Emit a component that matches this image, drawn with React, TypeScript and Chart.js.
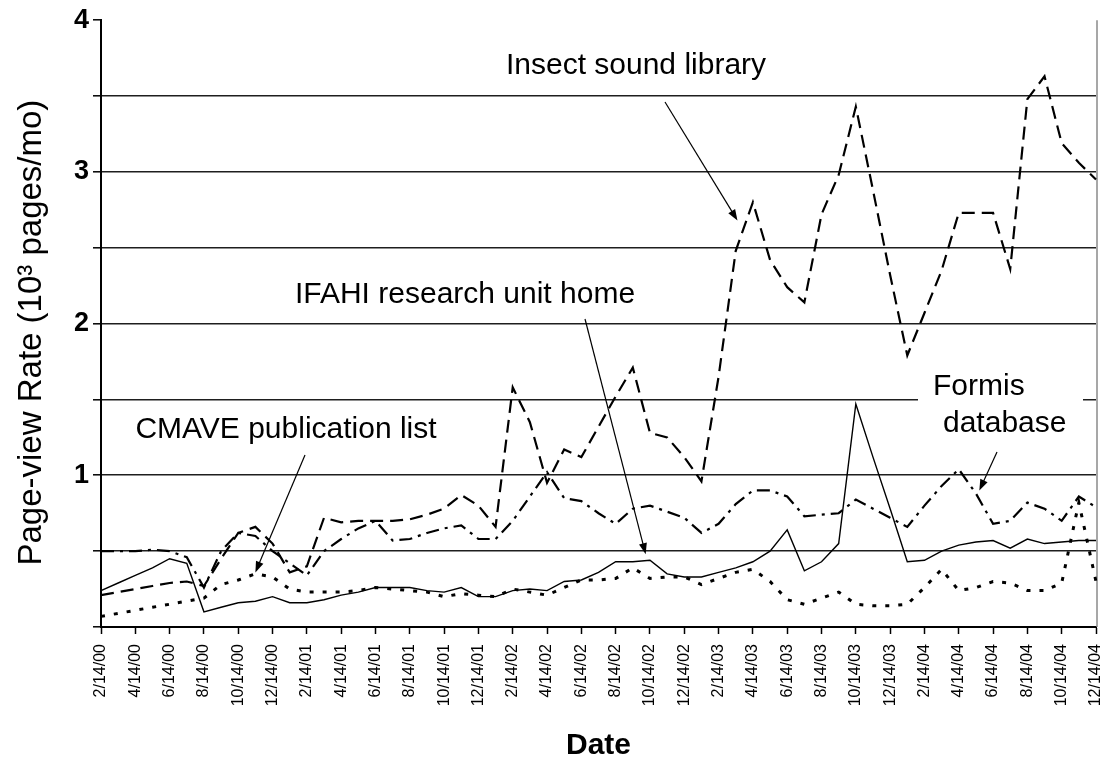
import React, { useEffect, useRef } from "react";
import { Chart, registerables } from "chart.js";

Chart.register(...registerables);

const FONT = '"Liberation Sans", Arial, Helvetica, sans-serif';

// Monthly sample dates (x categories)
const dateLabels = [
  "2/14/00", "3/14/00", "4/14/00", "5/14/00", "6/14/00", "7/14/00", "8/14/00", "9/14/00", "10/14/00", "11/14/00", "12/14/00",
  "1/14/01", "2/14/01", "3/14/01", "4/14/01", "5/14/01", "6/14/01", "7/14/01", "8/14/01", "9/14/01", "10/14/01", "11/14/01", "12/14/01",
  "1/14/02", "2/14/02", "3/14/02", "4/14/02", "5/14/02", "6/14/02", "7/14/02", "8/14/02", "9/14/02", "10/14/02", "11/14/02", "12/14/02",
  "1/14/03", "2/14/03", "3/14/03", "4/14/03", "5/14/03", "6/14/03", "7/14/03", "8/14/03", "9/14/03", "10/14/03", "11/14/03", "12/14/03",
  "1/14/04", "2/14/04", "3/14/04", "4/14/04", "5/14/04", "6/14/04", "7/14/04", "8/14/04", "9/14/04", "10/14/04", "11/14/04", "12/14/04",
];

// Page-view rate, 10^3 pages / month
const insectSoundLibrary = [
  0.21, 0.23, 0.25, 0.27, 0.29, 0.30, 0.27, 0.45, 0.62, 0.66,
  0.55, 0.36, 0.40, 0.72, 0.69, 0.70, 0.70, 0.70, 0.71, 0.74,
  0.78, 0.87, 0.80, 0.66, 1.58, 1.35, 0.95, 1.17, 1.12, 1.32,
  1.52, 1.71, 1.28, 1.25, 1.12, 0.96, 1.65, 2.48, 2.80, 2.42,
  2.24, 2.14, 2.72, 2.98, 3.43, 2.88, 2.32, 1.79, 2.07, 2.35,
  2.73, 2.73, 2.73, 2.36, 3.48, 3.63, 3.19, 3.06, 2.95,
];

const formisDatabase = [
  0.50, 0.50, 0.50, 0.51, 0.50, 0.46, 0.26, 0.50, 0.62, 0.60,
  0.50, 0.42, 0.34, 0.50, 0.58, 0.65, 0.70, 0.57, 0.58, 0.62,
  0.65, 0.67, 0.58, 0.58, 0.70, 0.86, 1.02, 0.85, 0.83, 0.75,
  0.68, 0.78, 0.80, 0.76, 0.72, 0.62, 0.68, 0.81, 0.90, 0.90,
  0.86, 0.73, 0.74, 0.75, 0.84, 0.78, 0.72, 0.66, 0.80, 0.93,
  1.04, 0.88, 0.68, 0.70, 0.82, 0.78, 0.70, 0.86, 0.79,
];

const ifahiResearchUnitHome = [
  0.24, 0.29, 0.34, 0.39, 0.45, 0.42, 0.10, 0.13, 0.16, 0.17,
  0.20, 0.16, 0.16, 0.18, 0.21, 0.23, 0.26, 0.26, 0.26, 0.24,
  0.23, 0.26, 0.20, 0.20, 0.24, 0.25, 0.24, 0.30, 0.31, 0.36,
  0.43, 0.43, 0.44, 0.35, 0.33, 0.33, 0.36, 0.39, 0.43, 0.50,
  0.64, 0.37, 0.43, 0.55, 1.47, 1.12, 0.78, 0.43, 0.44, 0.50,
  0.54, 0.56, 0.57, 0.52, 0.58, 0.55, 0.56, 0.57, 0.57,
];

const cmavePublicationList = [
  0.07, 0.09, 0.11, 0.13, 0.15, 0.17, 0.19, 0.28, 0.31, 0.35,
  0.33, 0.25, 0.23, 0.23, 0.23, 0.24, 0.26, 0.25, 0.24, 0.23,
  0.20, 0.22, 0.21, 0.20, 0.25, 0.23, 0.21, 0.26, 0.31, 0.31,
  0.32, 0.39, 0.32, 0.33, 0.33, 0.28, 0.32, 0.36, 0.38, 0.30,
  0.18, 0.15, 0.19, 0.23, 0.15, 0.14, 0.14, 0.15, 0.26, 0.38,
  0.24, 0.26, 0.30, 0.29, 0.24, 0.24, 0.29, 0.82, 0.30,
];

const yAxisTitle = "Page-view Rate (10\u00b3 pages/mo)";
const xAxisTitle = "Date";

// Annotation labels with arrows (arrow tip given in data coordinates)
const annotationDefs = [
  {
    lines: [{ text: "Insect sound library", x: 636, y: 74, align: "center" }],
    tail: [665, 102],
    tipIndex: 37.1,
    tipValue: 2.68,
  },
  {
    lines: [{ text: "IFAHI research unit home", x: 465, y: 303, align: "center" }],
    tail: [585, 319],
    tipIndex: 31.75,
    tipValue: 0.48,
  },
  {
    lines: [{ text: "CMAVE publication list", x: 286, y: 438, align: "center" }],
    tail: [305, 455],
    tipIndex: 9.0,
    tipValue: 0.36,
  },
  {
    lines: [
      { text: "Formis", x: 933, y: 395, align: "left" },
      { text: "database", x: 943, y: 432, align: "left" },
    ],
    tail: [997, 452],
    tipIndex: 51.2,
    tipValue: 0.9,
    box: [918, 366, 165, 74],
  },
];

function drawArrow(ctx: CanvasRenderingContext2D, x0: number, y0: number, x1: number, y1: number) {
  const ang = Math.atan2(y1 - y0, x1 - x0);
  const headLen = 11;
  const headHalf = 4;
  ctx.beginPath();
  ctx.moveTo(x0, y0);
  ctx.lineTo(x1 - Math.cos(ang) * headLen * 0.6, y1 - Math.sin(ang) * headLen * 0.6);
  ctx.stroke();
  ctx.beginPath();
  ctx.moveTo(x1, y1);
  ctx.lineTo(
    x1 - Math.cos(ang) * headLen + Math.sin(ang) * headHalf,
    y1 - Math.sin(ang) * headLen - Math.cos(ang) * headHalf
  );
  ctx.lineTo(
    x1 - Math.cos(ang) * headLen - Math.sin(ang) * headHalf,
    y1 - Math.sin(ang) * headLen + Math.cos(ang) * headHalf
  );
  ctx.closePath();
  ctx.fill();
}

const annotationPlugin = {
  id: "pageviewAnnotations",
  beforeDatasetsDraw(chart: any) {
    const ctx: CanvasRenderingContext2D = chart.ctx;
    ctx.save();
    ctx.fillStyle = "#ffffff";
    for (const a of annotationDefs) {
      if ((a as any).box) {
        const [bx, by, bw, bh] = (a as any).box;
        ctx.fillRect(bx, by, bw, bh);
      }
    }
    // right frame line of the plot area
    const { chartArea } = chart;
    ctx.strokeStyle = "#8a8a8a";
    ctx.lineWidth = 1.5;
    ctx.beginPath();
    ctx.moveTo(chartArea.right + 1, chartArea.top);
    ctx.lineTo(chartArea.right + 1, chartArea.bottom);
    ctx.stroke();
    ctx.restore();
  },
  afterDatasetsDraw(chart: any) {
    const ctx: CanvasRenderingContext2D = chart.ctx;
    const xs = chart.scales.x;
    const ys = chart.scales.y;
    ctx.save();
    ctx.fillStyle = "#000";
    ctx.strokeStyle = "#000";
    ctx.lineWidth = 1.2;
    ctx.font = `30px ${FONT}`;
    ctx.textBaseline = "alphabetic";
    for (const a of annotationDefs) {
      for (const l of a.lines) {
        ctx.textAlign = l.align as CanvasTextAlign;
        ctx.fillText(l.text, l.x, l.y);
      }
      const tx = xs.getPixelForValue(a.tipIndex);
      const ty = ys.getPixelForValue(a.tipValue);
      drawArrow(ctx, a.tail[0], a.tail[1], tx, ty);
    }
    // vertical axis title
    const { chartArea } = chart;
    ctx.save();
    ctx.translate(32, (chartArea.top + chartArea.bottom) / 2 + 9);
    ctx.rotate(-Math.PI / 2);
    ctx.textAlign = "center";
    ctx.textBaseline = "middle";
    ctx.font = `33px ${FONT}`;
    ctx.fillText(yAxisTitle, 0, 0);
    ctx.restore();
    ctx.restore();
  },
};

export default function App() {
  const canvasRef = useRef<HTMLCanvasElement | null>(null);

  useEffect(() => {
    if (!canvasRef.current) return;
    Chart.defaults.font.family = FONT;
    Chart.defaults.color = "#000";

    const chart = new Chart(canvasRef.current, {
      type: "line",
      data: {
        labels: dateLabels,
        datasets: [
          {
            label: "Insect sound library",
            data: insectSoundLibrary,
            borderColor: "#000",
            borderWidth: 2.2,
            borderDash: [13, 7],
            pointRadius: 0,
            tension: 0,
            fill: false,
          },
          {
            label: "Formis database",
            data: formisDatabase,
            borderColor: "#000",
            borderWidth: 2.2,
            borderDash: [13, 6, 3, 6],
            pointRadius: 0,
            tension: 0,
            fill: false,
          },
          {
            label: "IFAHI research unit home",
            data: ifahiResearchUnitHome,
            borderColor: "#000",
            borderWidth: 1.4,
            pointRadius: 0,
            tension: 0,
            fill: false,
          },
          {
            label: "CMAVE publication list",
            data: cmavePublicationList,
            borderColor: "#000",
            borderWidth: 3,
            borderDash: [4, 9],
            pointRadius: 0,
            tension: 0,
            fill: false,
          },
        ],
      },
      options: {
        responsive: true,
        maintainAspectRatio: false,
        animation: false,
        layout: { padding: { top: 19, right: 16, bottom: 0, left: 0 } },
        plugins: {
          legend: { display: false },
          tooltip: { enabled: false },
          title: { display: false },
        },
        scales: {
          x: {
            type: "category",
            offset: false,
            afterFit: (scale: any) => {
              scale.height = 135;
              scale.paddingLeft = 0;
              scale.paddingRight = 0;
            },
            border: { display: true, color: "#000", width: 2 },
            grid: {
              display: true,
              drawOnChartArea: false,
              drawTicks: true,
              tickLength: 7,
              tickColor: "#000",
              tickWidth: 1.5,
            },
            ticks: {
              autoSkip: false,
              maxRotation: 90,
              minRotation: 90,
              padding: 10,
              font: { size: 16 },
              color: "#000",
              callback: (_v: any, i: number) => (i % 2 === 0 ? dateLabels[i] : null),
            },
            title: {
              display: true,
              text: xAxisTitle,
              font: { size: 30, weight: "bold", lineHeight: 1.1 },
              color: "#000",
              padding: { top: 0, bottom: 0 },
            },
          },
          y: {
            min: 0,
            max: 4,
            afterFit: (scale: any) => {
              scale.width = 101;
            },
            border: { display: true, color: "#000", width: 2 },
            grid: {
              drawTicks: true,
              tickLength: 8,
              tickColor: "#000",
              tickWidth: 1.5,
              lineWidth: 1.6,
              color: (ctx: any) => {
                const v = ctx.tick ? ctx.tick.value : 0;
                if (v <= 0 || v >= 4) return "rgba(0,0,0,0)";
                return "#1e1e1e";
              },
            },
            ticks: {
              stepSize: 0.5,
              padding: 4,
              font: { size: 27, weight: "bold" },
              color: "#000",
              callback: (v: any) => {
                const n = Number(v);
                return n > 0 && Math.abs(n - Math.round(n)) < 1e-9 ? String(Math.round(n)) : "";
              },
            },
            title: { display: false },
          },
        },
      },
      plugins: [annotationPlugin],
    });

    return () => {
      chart.destroy();
    };
  }, []);

  return (
    <div
      style={{
        position: "fixed",
        left: 0,
        top: 0,
        width: 1112,
        height: 762,
        background: "#fff",
      }}
    >
      <canvas ref={canvasRef} />
    </div>
  );
}
